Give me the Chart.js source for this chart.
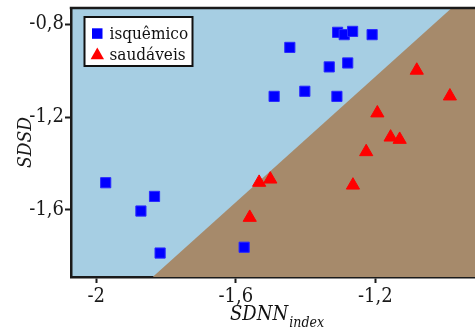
<!DOCTYPE html>
<html>
<head>
<meta charset="utf-8">
<script src="https://cdn.jsdelivr.net/npm/chart.js@4/dist/chart.umd.min.js"></script>
<style>
html,body{margin:0;padding:0;background:#fff;}
#wrap{width:475px;height:327px;position:relative;}
</style>
</head>
<body>
<div id="wrap"><canvas id="c" width="475" height="327"></canvas></div>
<script>
// ---- data ----
const isquemicoX = [-1.973, -1.872, -1.833, -1.817, -1.576, -1.445, -1.490, -1.402, -1.332, -1.310, -1.308, -1.289, -1.265, -1.279, -1.209];
const isquemicoY = [-1.483, -1.605, -1.542, -1.786, -1.761, -0.900, -1.111, -1.089, -0.984, -1.111, -0.835, -0.845, -0.831, -0.967, -0.845];
const saudaveisX = [-1.081, -0.986, -1.194, -1.156, -1.130, -1.226, -1.533, -1.501, -1.264, -1.560];
const saudaveisY = [-0.999, -1.110, -1.183, -1.287, -1.297, -1.350, -1.482, -1.468, -1.494, -1.633];
const boundaryX = [-1.8383, -0.9809, -0.90];
const boundaryY = [-1.8892, -0.7302, -0.7302];
const xTicks = [-2, -1.6, -1.2];
const yTicks = [-0.8, -1.2, -1.6];
const seriesLabels = ['isquêmico', 'saudáveis'];

const toPts = (xs, ys) => xs.map((x, i) => ({x: x, y: ys[i]}));
const fmt = v => String(Math.round(v * 10) / 10).replace('.', ',');

const SERIF = "'DejaVu Serif Condensed', 'DejaVu Serif', serif";
const BLUE_BG = '#a6cee3';
const BROWN = '#a68a6b';
const AXIS = '#1a1a1a';

const bgPlugin = {
  id: 'bg',
  beforeDraw(chart) {
    const {ctx, chartArea: a} = chart;
    ctx.save();
    ctx.fillStyle = BLUE_BG;
    ctx.fillRect(a.left, a.top, a.right - a.left, a.bottom - a.top);
    ctx.restore();
  },
  afterDraw(chart) {
    const {ctx, chartArea: a} = chart;
    ctx.save();
    ctx.strokeStyle = AXIS;
    ctx.lineWidth = 2.5;
    ctx.beginPath();
    ctx.moveTo(a.left - 1.25, a.top);
    ctx.lineTo(a.right, a.top);
    ctx.stroke();
    const bx = 84.5, by = 17, bw = 108, bh = 49;
    ctx.fillStyle = '#ffffff';
    ctx.fillRect(bx, by, bw, bh);
    ctx.lineWidth = 2;
    ctx.strokeStyle = '#111';
    ctx.strokeRect(bx, by, bw, bh);
    ctx.fillStyle = '#0000ff';
    ctx.fillRect(92, 28.3, 10.5, 10.5);
    ctx.fillStyle = '#ff0000';
    ctx.beginPath();
    ctx.moveTo(97.3, 47.6);
    ctx.lineTo(104, 59.2);
    ctx.lineTo(90.6, 59.2);
    ctx.closePath();
    ctx.fill();
    ctx.fillStyle = '#111';
    ctx.textBaseline = 'alphabetic';
    ctx.textAlign = 'left';
    ctx.font = '17px ' + SERIF;
    ctx.fillText(seriesLabels[0], 109.5, 38.5);
    ctx.fillText(seriesLabels[1], 109.5, 59.5);
    const main = 'SDNN', sub = 'index';
    ctx.font = 'italic 20px ' + SERIF;
    const w1 = ctx.measureText(main).width;
    ctx.font = 'italic 14px ' + SERIF;
    const w2 = ctx.measureText(sub).width;
    const cx = (a.left + a.right) / 2 + 3.5;
    const x0 = cx - (w1 + w2) / 2;
    ctx.font = 'italic 20px ' + SERIF;
    ctx.fillText(main, x0, 320);
    ctx.font = 'italic 14px ' + SERIF;
    ctx.fillText(sub, x0 + w1 + 1, 327);
    ctx.restore();
  }
};

function draw() {
  new Chart(document.getElementById('c'), {
    type: 'scatter',
    data: {
      datasets: [
        {
          label: seriesLabels[0],
          data: toPts(isquemicoX, isquemicoY),
          pointStyle: 'rect',
          pointRadius: 7.2,
          pointHoverRadius: 7.2,
          backgroundColor: '#0000ff',
          borderColor: '#2a2aff',
          borderWidth: 1,
          order: 1
        },
        {
          label: seriesLabels[1],
          data: toPts(saudaveisX, saudaveisY),
          pointStyle: 'triangle',
          pointRadius: 7.6,
          pointHoverRadius: 7.6,
          backgroundColor: '#ff0000',
          borderColor: '#ff0000',
          borderWidth: 1,
          order: 0
        },
        {
          label: 'boundary',
          type: 'line',
          data: toPts(boundaryX, boundaryY),
          showLine: true,
          pointRadius: 0,
          borderWidth: 0,
          borderColor: 'rgba(0,0,0,0)',
          backgroundColor: BROWN,
          fill: 'start',
          tension: 0,
          order: 10
        }
      ]
    },
    options: {
      responsive: false,
      animation: false,
      events: [],
      layout: {autoPadding: false, padding: {top: 8, left: 0, right: 0, bottom: 0}},
      plugins: {legend: {display: false}, tooltip: {enabled: false}},
      scales: {
        x: {
          type: 'linear',
          min: -2.0725,
          max: -0.914,
          afterBuildTicks: s => { s.ticks = xTicks.map(v => ({value: v})); },
          afterFit: s => { s.height = 50; s.paddingLeft = 0; s.paddingRight = 0; },
          grid: {display: true, drawOnChartArea: false, drawTicks: true, tickLength: 6, tickWidth: 2, tickColor: AXIS},
          border: {display: true, color: AXIS, width: 2.5},
          ticks: {
            callback: v => fmt(v),
            font: {family: SERIF, size: 20},
            color: '#1a1a1a',
            padding: 2,
            maxRotation: 0
          },
          title: {display: false}
        },
        y: {
          type: 'linear',
          min: -1.8892,
          max: -0.7302,
          afterBuildTicks: s => { s.ticks = yTicks.map(v => ({value: v})); },
          afterFit: s => { s.width = 71; s.paddingTop = 0; s.paddingBottom = 0; },
          grid: {display: true, drawOnChartArea: false, drawTicks: true, tickLength: 6, tickWidth: 2, tickColor: AXIS},
          border: {display: true, color: AXIS, width: 2.5},
          ticks: {
            callback: v => fmt(v),
            font: {family: SERIF, size: 20},
            color: '#1a1a1a',
            padding: 1
          },
          title: {
            display: true,
            text: 'SDSD',
            font: {family: SERIF, size: 19, style: 'italic'},
            color: '#1a1a1a',
            padding: {top: 15, bottom: 0}
          }
        }
      }
    },
    plugins: [bgPlugin]
  });
}
draw();
</script>
</body>
</html>
